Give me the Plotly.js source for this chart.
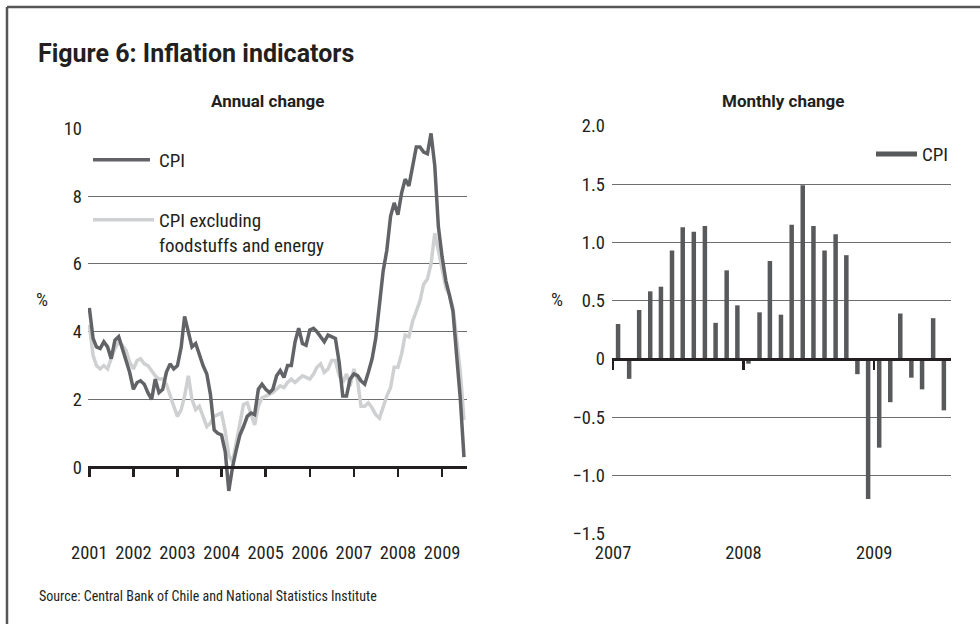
<!DOCTYPE html>
<html>
<head>
<meta charset="utf-8">
<script src="https://cdn.plot.ly/plotly-3.0.1.min.js"></script>
<style>
  html, body { margin: 0; padding: 0; background: #ffffff; }
  #chart { width: 980px; height: 624px; }
</style>
</head>
<body>
<div id="chart"></div>
<script>
// ---------------- DATA ----------------
// Annual change (%), monthly observations starting Jan 2001
const annualStart = [2001, 1];
const cpiAnnual = [
  4.7, 3.8, 3.55, 3.5, 3.7, 3.55, 3.2, 3.75, 3.85, 3.5, 3.15, 2.8,      // 2001
  2.3, 2.5, 2.55, 2.45, 2.2, 2.0, 2.6, 2.2, 2.3, 2.8, 3.05, 2.9,        // 2002
  3.0, 3.55, 4.45, 4.0, 3.55, 3.65, 3.3, 3.0, 2.75, 2.15, 1.1, 1.0,     // 2003
  0.95, 0.45, -0.7, 0.0, 0.5, 0.95, 1.2, 1.5, 1.6, 1.55, 2.3, 2.45,     // 2004
  2.3, 2.2, 2.3, 2.7, 2.85, 2.65, 3.0, 3.0, 3.7, 4.1, 3.65, 3.6,        // 2005
  4.05, 4.1, 4.0, 3.85, 3.7, 3.9, 3.85, 3.8, 3.1, 2.1, 2.1, 2.6,        // 2006
  2.75, 2.7, 2.55, 2.45, 2.8, 3.2, 3.8, 4.8, 5.8, 6.4, 7.4, 7.8,        // 2007
  7.45, 8.1, 8.5, 8.3, 8.9, 9.45, 9.45, 9.3, 9.25, 9.85, 8.9, 7.1,      // 2008
  6.2, 5.5, 5.1, 4.6, 3.3, 2.0, 0.3                                     // 2009
];
const cpiCoreAnnual = [
  4.2, 3.3, 3.0, 2.9, 3.0, 2.9, 3.2, 3.5, 3.7, 3.6, 3.45, 3.1,          // 2001
  2.9, 3.15, 3.2, 3.05, 3.0, 2.85, 2.7, 2.6, 2.6, 2.45, 2.1, 1.8,       // 2002
  1.5, 1.7, 2.1, 2.7, 2.0, 1.7, 1.8, 1.5, 1.2, 1.3, 1.5, 1.55,         // 2003
  1.6, 1.05, 0.35, 0.15, 0.7, 1.3, 1.85, 1.9, 1.6, 1.25, 1.8, 2.05,     // 2004
  2.1, 2.15, 2.2, 2.3, 2.4, 2.35, 2.5, 2.6, 2.5, 2.6, 2.7, 2.65,        // 2005
  2.6, 2.75, 2.95, 3.05, 2.8, 2.9, 3.15, 3.15, 2.7, 2.5, 2.75, 2.4,     // 2006
  2.9, 2.55, 1.8, 1.8, 1.9, 1.75, 1.55, 1.45, 1.8, 2.1, 2.35, 2.95,     // 2007
  2.95, 3.35, 3.9, 3.85, 4.3, 4.6, 4.9, 5.4, 5.55, 6.0, 6.9, 6.4,       // 2008
  5.9, 5.3, 5.1, 4.7, 3.8, 2.8, 1.4                                     // 2009
];

// Monthly change (%), starting Jan 2007
const monthlyStart = [2007, 1];
const cpiMonthly = [
  0.30, -0.17, 0.42, 0.58, 0.62, 0.93, 1.13, 1.09, 1.14, 0.31, 0.76, 0.46,   // 2007
  -0.04, 0.40, 0.84, 0.38, 1.15, 1.49, 1.14, 0.93, 1.07, 0.89, -0.13, -1.20, // 2008
  -0.76, -0.37, 0.39, -0.16, -0.26, 0.35, -0.44                              // 2009
];

const annualTickVals = [-2, 0, 2, 4, 6, 8, 10];
const annualTickText = ['', '0', '2', '4', '6', '8', '10'];
const monthlyTickVals = [-1.5, -1, -0.5, 0, 0.5, 1, 1.5, 2];
const monthlyTickText = ['\u22121.5', '\u22121.0', '\u22120.5', '0', '0.5', '1.0', '1.5', '2.0'];

const seriesNames = ['CPI', 'CPI excluding<br>foodstuffs and energy'];
const figureTitle = 'Figure 6: Inflation indicators';
const leftTitle = 'Annual change';
const rightTitle = 'Monthly change';
const unitLabel = '%';
const sourceText = 'Source: Central Bank of Chile and National Statistics Institute';

// ---------------- HELPERS ----------------
function monthDates(start, n, day) {
  const out = [];
  for (let i = 0; i < n; i++) {
    const idx = start[1] - 1 + i;
    const y = start[0] + Math.floor(idx / 12);
    const m = (idx % 12) + 1;
    out.push(y + '-' + String(m).padStart(2, '0') + '-' + day);
  }
  return out;
}

const W = 980, H = 624;
const px = x => x / W;
const py = y => 1 - y / H;
const FONT = '"Roboto Condensed", Roboto, sans-serif';
const FONT_BOLD = 'Roboto, sans-serif';
const INK = '#231f20';
const GRID = '#6d6e70';
const DARK = '#626366';
const LIGHT = '#cfd0d1';
const BAR = '#58595b';

const leftDom = [py(535), py(128.3)];
const rightDom = [py(534), py(125.7)];
const zeroPos = (dom, r) => dom[0] + (0 - r[0]) / (r[1] - r[0]) * (dom[1] - dom[0]);
const leftRange = [-2, 10];
const rightRange = [-1.5, 2];

const annualDates = monthDates(annualStart, cpiAnnual.length, '01');
const monthlyDates = monthDates(monthlyStart, cpiMonthly.length, '15');

const traces = [
  {
    type: 'scatter', mode: 'lines', name: seriesNames[1],
    x: annualDates, y: cpiCoreAnnual, xaxis: 'x', yaxis: 'y',
    line: { color: LIGHT, width: 3.5 }, legend: 'legend2', hoverinfo: 'skip'
  },
  {
    type: 'scatter', mode: 'lines', name: seriesNames[0],
    x: annualDates, y: cpiAnnual, xaxis: 'x', yaxis: 'y',
    line: { color: DARK, width: 3.5 }, legend: 'legend', hoverinfo: 'skip'
  },
  {
    type: 'bar', name: seriesNames[0],
    x: monthlyDates, y: cpiMonthly, xaxis: 'x2', yaxis: 'y2',
    marker: { color: BAR, line: { width: 0 } }, showlegend: false, hoverinfo: 'skip'
  }
];

const xCommon = {
  type: 'date', anchor: 'free', tickmode: 'linear', dtick: 'M12', tickformat: '%Y',
  ticks: 'outside', ticklen: 8, tickwidth: 2.5, tickcolor: INK, tickangle: 0,
  showline: true, linecolor: INK, linewidth: 3, showgrid: false, zeroline: false,
  tickfont: { family: FONT, size: 18.5, color: INK }, fixedrange: true, layer: 'above traces'
};
const yCommon = {
  tickmode: 'array', ticks: '', showgrid: true, gridcolor: GRID, gridwidth: 1,
  zeroline: false, showline: false, tickfont: { family: FONT, size: 18.5, color: INK }, fixedrange: true
};

const legendKeyLen = 57;
const layout = {
  width: W, height: H,
  margin: { l: 0, r: 0, t: 0, b: 0, pad: 0 },
  paper_bgcolor: '#ffffff', plot_bgcolor: 'rgba(0,0,0,0)',
  font: { family: FONT, size: 18.5, color: INK },
  showlegend: true,
  bargap: 0.55,
  xaxis: Object.assign({}, xCommon, {
    domain: [px(88), px(467)], range: ['2000-12-21', '2009-07-26'],
    tick0: '2001-01-01', position: zeroPos(leftDom, leftRange), ticklabelstandoff: 60
  }),
  yaxis: Object.assign({}, yCommon, {
    domain: leftDom, range: leftRange, anchor: 'x',
    tickvals: annualTickVals, ticktext: annualTickText, ticklabelstandoff: 5
  }),
  xaxis2: Object.assign({}, xCommon, {
    domain: [px(612), px(951)], range: ['2006-12-29', '2009-08-04'],
    tick0: '2007-01-01', position: zeroPos(rightDom, rightRange), ticklabelstandoff: 167,
    ticklen: 9
  }),
  yaxis2: Object.assign({}, yCommon, {
    domain: rightDom, range: rightRange, anchor: 'x2',
    tickvals: monthlyTickVals, ticktext: monthlyTickText, ticklabelstandoff: 6
  }),
  legend: {
    x: px(88), y: py(141), xanchor: 'left', yanchor: 'top',
    bgcolor: 'rgba(0,0,0,0)', borderwidth: 0, itemwidth: 61,
    font: { family: FONT, size: 19, color: INK }, valign: 'top'
  },
  legend2: {
    x: px(88), y: py(201), xanchor: 'left', yanchor: 'top',
    bgcolor: 'rgba(0,0,0,0)', borderwidth: 0, itemwidth: 61,
    font: { family: FONT, size: 19, color: INK }, valign: 'top'
  },
  annotations: [
    { text: '<b>' + figureTitle + '</b>', xref: 'paper', yref: 'paper', x: px(36), y: py(53),
      xanchor: 'left', yanchor: 'middle', showarrow: false, font: { family: FONT_BOLD, size: 25, color: INK } },
    { text: '<b>' + leftTitle + '</b>', xref: 'paper', yref: 'paper', x: px(267), y: py(101),
      xanchor: 'center', yanchor: 'middle', showarrow: false, font: { family: FONT_BOLD, size: 17, color: INK } },
    { text: '<b>' + rightTitle + '</b>', xref: 'paper', yref: 'paper', x: px(783), y: py(101),
      xanchor: 'center', yanchor: 'middle', showarrow: false, font: { family: FONT_BOLD, size: 17, color: INK } },
    { text: unitLabel, xref: 'paper', yref: 'paper', x: px(42), y: py(299),
      xanchor: 'center', yanchor: 'middle', showarrow: false, font: { size: 19, color: INK } },
    { text: unitLabel, xref: 'paper', yref: 'paper', x: px(557), y: py(299),
      xanchor: 'center', yanchor: 'middle', showarrow: false, font: { size: 19, color: INK } },
    { text: sourceText, xref: 'paper', yref: 'paper', x: px(37), y: py(596),
      xanchor: 'left', yanchor: 'middle', showarrow: false, font: { size: 14, color: INK } },
    { text: seriesNames[0], xref: 'paper', yref: 'paper', x: px(920), y: py(154),
      xanchor: 'left', yanchor: 'middle', showarrow: false, font: { size: 19, color: INK } }
  ],
  shapes: [
    // frame (left and top edges)
    { type: 'line', xref: 'paper', yref: 'paper', x0: px(7), x1: px(7), y0: 0, y1: py(7),
      line: { color: '#555657', width: 2.5 } },
    { type: 'line', xref: 'paper', yref: 'paper', x0: px(7), x1: 1, y0: py(7), y1: py(7),
      line: { color: '#555657', width: 2.5 } },
    // legend key for the monthly bars
    { type: 'line', xref: 'paper', yref: 'paper', x0: px(876), x1: px(917), y0: py(154), y1: py(154),
      line: { color: BAR, width: 5 } }
  ]
};

Plotly.newPlot('chart', traces, layout, { staticPlot: true, displayModeBar: false }).then(gd => {
  // lengthen the legend line keys to match the printed figure
  gd.querySelectorAll('.legend .legendlines path').forEach(p => {
    p.setAttribute('d', 'M5,0h' + legendKeyLen);
  });
});
</script>
</body>
</html>
